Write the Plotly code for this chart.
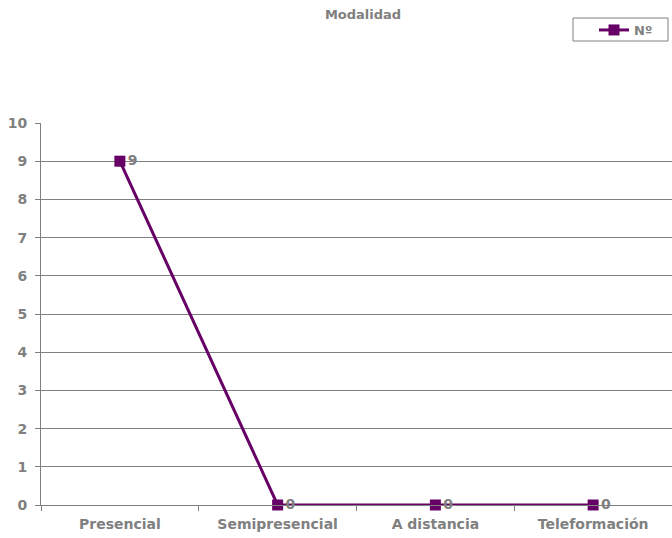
import plotly.graph_objects as go

categories = ["Presencial", "Semipresencial", "A distancia", "Teleformación"]
values = [9, 0, 0, 0]
series_name = "Nº"
y_ticks = list(range(0, 11))

W, H = 672, 538
L, R, T, B = 41, 0, 123, 33
PW, PH = W - L - R, H - T - B

def px_x(px):
    return (px - L) / PW

def px_y(py):
    return (H - B - py) / PH

GRAY = "#808080"
FONT = "DejaVu Sans"

fig = go.Figure()
fig.add_trace(go.Scatter(
    x=categories, y=values, name=series_name,
    mode="lines+markers+text",
    line=dict(color="#660066", width=3),
    marker=dict(symbol="square", size=11, color="#660066"),
    text=[str(v) for v in values], textposition="middle right",
    textfont=dict(family=FONT, size=14, color=GRAY, weight="bold"),
    cliponaxis=False,
))

fig.add_shape(type="rect", xref="paper", yref="paper",
              x0=px_x(573), x1=px_x(668), y0=px_y(41), y1=px_y(18),
              line=dict(color=GRAY, width=1), fillcolor="white", layer="below")

fig.update_layout(
    width=W, height=H,
    margin=dict(l=L, r=R, t=T, b=B),
    paper_bgcolor="white", plot_bgcolor="white",
    font=dict(family=FONT, size=14, color=GRAY),
    title=dict(text="Modalidad", x=363 / W, xanchor="center", y=1 - 14 / H, yanchor="middle",
               font=dict(family=FONT, size=13, color=GRAY, weight="bold")),
    showlegend=True,
    legend=dict(x=px_x(594), xanchor="left", y=px_y(30), yanchor="middle",
                borderwidth=0, bgcolor="rgba(0,0,0,0)",
                font=dict(family=FONT, size=13, color=GRAY, weight="bold"),
                itemwidth=30),
    xaxis=dict(
        type="category", range=[-0.5, 3.5],
        showline=True, linecolor=GRAY, linewidth=1,
        ticks="outside", ticklen=5, tickcolor=GRAY,
        tickson="boundaries", showgrid=False,
        tickfont=dict(family=FONT, size=14, color=GRAY, weight="bold"),
        ticklabelstandoff=6,
    ),
    yaxis=dict(
        range=[0, 10], tickvals=y_ticks,
        showline=True, linecolor=GRAY, linewidth=1,
        ticks="outside", ticklen=5, tickcolor=GRAY,
        showgrid=True, gridcolor=GRAY, gridwidth=1,
        zeroline=False,
        tickfont=dict(family=FONT, size=14, color=GRAY, weight="bold"),
        ticklabelstandoff=5,
    ),
)
fig.write_html("out.html", config={"displayModeBar": False},
               post_script="document.body.style.margin='0';")
